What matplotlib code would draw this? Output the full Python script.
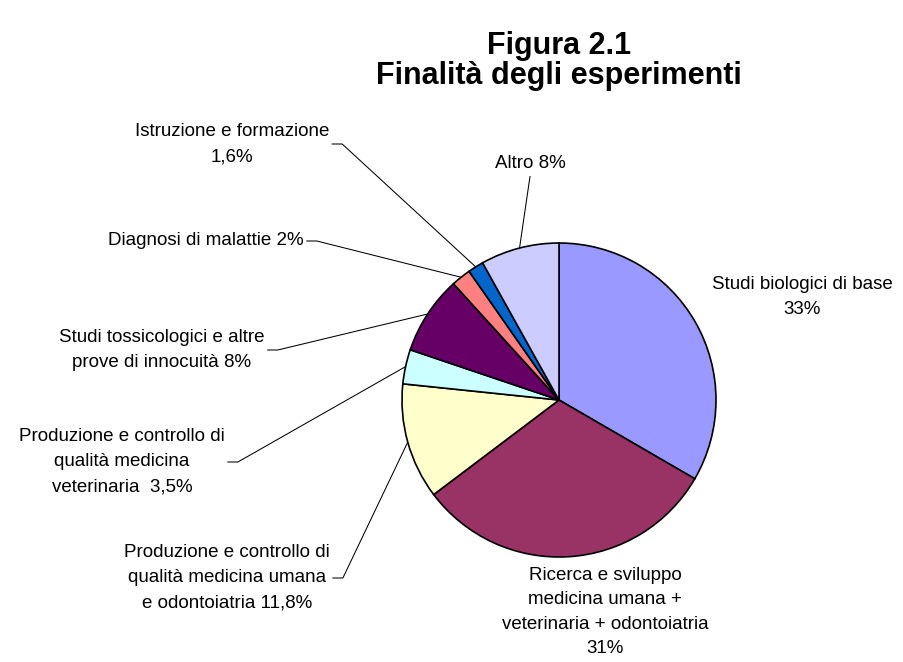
import numpy as np
import matplotlib
matplotlib.use("Agg")
import matplotlib.pyplot as plt

# ---- data ----
categories = [
    "Studi biologici di base\n33%",
    "Ricerca e sviluppo\nmedicina umana +\nveterinaria + odontoiatria\n31%",
    "Produzione e controllo di\nqualità medicina umana\ne odontoiatria 11,8%",
    "Produzione e controllo di\nqualità medicina\nveterinaria  3,5%",
    "Studi tossicologici e altre\nprove di innocuità 8%",
    "Diagnosi di malattie 2%",
    "Istruzione e formazione\n1,6%",
    "Altro 8%",
]
values = [33, 31, 11.8, 3.5, 8, 2, 1.6, 8]
colors = ["#9999FF", "#993366", "#FFFFCC", "#CCFFFF", "#660066",
          "#FF8080", "#0066CC", "#CCCCFF"]
title_lines = ["Figura 2.1", "Finalità degli esperimenti"]

# ---- layout (pixel coordinates, y measured from top) ----
W, H = 904, 662
CX, CY, R = 559, 400, 157
label_pos = [(802, 297), (605, 612), (227, 578), (122, 462),
             (162, 350), (206, 241), (232, 144), (530, 164)]
label_ls = [1.62, 1.55, 1.62, 1.62, 1.62, 1.62, 1.62, 1.62]
# leader style: None, 'right' (from right-middle of label), 'below'
leader_kind = [None, None, "right", "right", "right", "right", "right", "below"]

plt.rcParams['font.family'] = ['Liberation Sans', 'DejaVu Sans']

fig = plt.figure(figsize=(W / 100, H / 100), dpi=100)
ax = fig.add_axes([0, 0, 1, 1])

wedges, _ = ax.pie(values, colors=colors, startangle=90, counterclock=False,
                   center=(CX, H - CY), radius=R,
                   wedgeprops=dict(edgecolor="black", linewidth=1.2))
ax.set_xlim(0, W)
ax.set_ylim(0, H)
ax.set_aspect("equal")
ax.axis("off")

texts = []
for i, lab in enumerate(categories):
    lx, ly = label_pos[i]
    t = ax.text(lx, H - ly, lab, ha="center", va="center",
                multialignment="center", fontsize=13.5, linespacing=label_ls[i],
                color="black")
    texts.append(t)

fig.canvas.draw()
renderer = fig.canvas.get_renderer()

for i, (t, w) in enumerate(zip(texts, wedges)):
    kind = leader_kind[i]
    if kind is None:
        continue
    bb = t.get_window_extent(renderer)
    mid = np.deg2rad((w.theta1 + w.theta2) / 2)
    ex = CX + R * np.cos(mid)
    ey = (H - CY) + R * np.sin(mid)
    if kind == "right":
        y0 = (bb.y0 + bb.y1) / 2
        xs = [bb.x1 + 3, bb.x1 + 13, ex]
        ys = [y0, y0, ey]
    else:
        xs = [(bb.x0 + bb.x1) / 2, ex]
        ys = [bb.y0 - 4, ey]
    ax.plot(xs, ys, color="black", linewidth=0.75, zorder=0)

fig.text(559 / W, 1 - 61 / H, "\n".join(title_lines), ha="center", va="center",
         fontsize=22, fontweight="bold", linespacing=1.0)

fig.savefig("out.png", dpi=100, facecolor="white")
